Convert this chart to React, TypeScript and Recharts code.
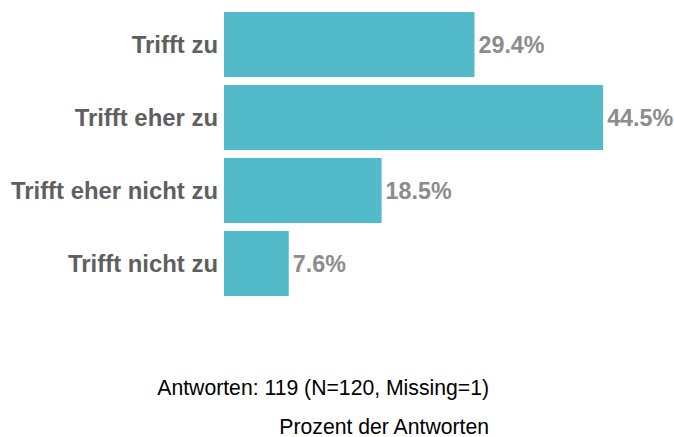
import { BarChart, Bar, XAxis, YAxis, LabelList, Customized } from "recharts";

const categories = ["Trifft zu", "Trifft eher zu", "Trifft eher nicht zu", "Trifft nicht zu"];
const percentages = [29.4, 44.5, 18.5, 7.6];
const footnote = "Antworten: 119 (N=120, Missing=1)";
const axisTitle = "Prozent der Antworten";

const data = categories.map((name, i) => ({ name, value: percentages[i] }));

const FONT = "'Liberation Sans', Arial, sans-serif";

const Footer = () => (
  <g fontFamily={FONT} fontSize={21.2} fill="#000">
    <text x={489} y={395} textAnchor="end">{footnote}</text>
    <text x={489} y={434} textAnchor="end">{axisTitle}</text>
  </g>
);

export default function App() {
  return (
    <div style={{ position: "absolute", left: 0, top: 0, width: 674, height: 437, background: "#fff" }}>
      <BarChart
        width={674}
        height={437}
        data={data}
        layout="vertical"
        margin={{ top: 8, right: 24, bottom: 137, left: 0 }}
        barCategoryGap={4}
      >
        <XAxis type="number" domain={[0, 50]} hide />
        <YAxis
          type="category"
          dataKey="name"
          width={224}
          axisLine={false}
          tickLine={false}
          tickSize={6}
          tickMargin={0}
          tick={{ fill: "#5f5f5f", fontSize: 23.9, fontWeight: "bold", fontFamily: FONT }}
        />
        <Bar dataKey="value" fill="#52bac8" isAnimationActive={false}>
          <LabelList
            dataKey="value"
            position="right"
            offset={4}
            formatter={(v: number) => `${v.toFixed(1)}%`}
            fill="#8c8c8c"
            fontSize={23.3}
            fontWeight="bold"
            fontFamily={FONT}
          />
        </Bar>
        <Customized component={Footer} />
      </BarChart>
    </div>
  );
}
